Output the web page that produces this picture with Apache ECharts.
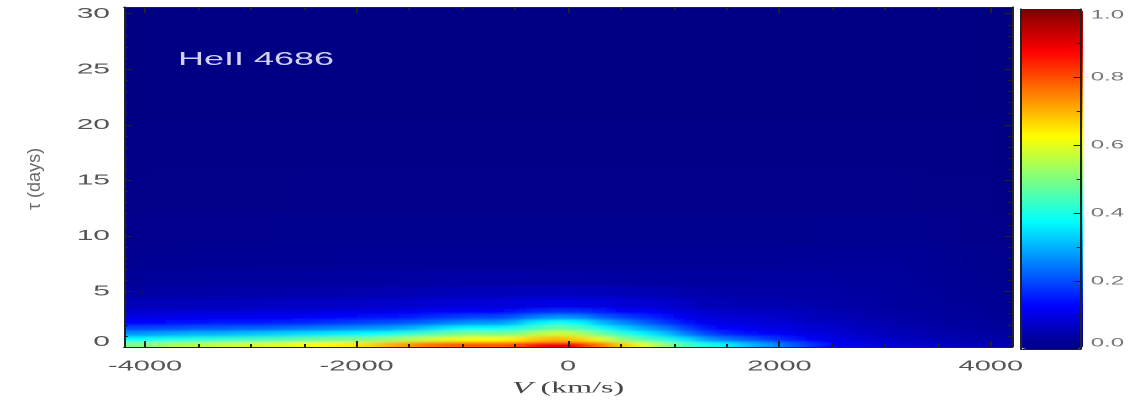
<!DOCTYPE html>
<html>
<head>
<meta charset="utf-8">
<script src="https://cdn.jsdelivr.net/npm/echarts@6/dist/echarts.min.js"></script>
<style>
html,body{margin:0;padding:0;background:#fff;overflow:hidden;}
#wrap{width:1129px;height:407px;overflow:hidden;position:relative;background:#fff;}
#heatClip{position:absolute;left:124px;top:7px;width:888px;height:340px;overflow:hidden;z-index:0;}
#heat{position:absolute;left:-124px;top:-7px;width:564.5px;height:407px;transform:scaleX(2);transform-origin:0 0;filter:url(#soft);}
#chart{position:absolute;left:0;top:0;width:564.5px;height:407px;transform:scaleX(2);transform-origin:0 0;z-index:1;}
</style>
</head>
<body>
<svg width="0" height="0" style="position:absolute">
  <filter id="soft" x="-10%" y="-10%" width="120%" height="120%">
    <feGaussianBlur stdDeviation="4 1.8"/>
  </filter>
</svg>
<div id="wrap">
  <div id="heatClip"><div id="heat"></div></div>
  <div id="chart"></div>
</div>
<script>
// ---- data ----
const velocity = [-4100,-3900,-3700,-3500,-3300,-3100,-2900,-2700,-2500,-2300,-2100,-1900,-1700,-1500,-1300,-1100,-900,-700,-500,-300,-100,100,300,500,700,900,1100,1300,1500,1700,1900,2100,2300,2500,2700,2900,3100,3300,3500,3700,3900,4100];
const tauEdges = [0,0.5,1,1.5,2,2.5,3,3.5,4.5,5.5,7,9,12,16,21,30.6];

const tau_0_05 = [.50,.52,.54,.55,.57,.58,.59,.60,.62,.63, .64,.66,.70,.73,.76,.78,.79,.78,.80,.86, .89,.86,.76,.68,.60,.52,.45,.40,.36,.31, .27,.22,.17,.13,.11,.095,.085,.075,.065,.055, .05,.045];
const tau_05_1 = [.38,.39,.40,.41,.42,.43,.44,.45,.47,.48, .49,.50,.52,.55,.58,.60,.62,.62,.64,.68, .70,.67,.60,.52,.46,.41,.35,.28,.24,.21, .18,.15,.12,.10,.085,.075,.065,.06,.05,.045, .04,.04];
const tau_1_15 = [.27,.28,.29,.30,.30,.31,.32,.33,.34,.35, .36,.37,.39,.42,.45,.48,.50,.49,.50,.55, .58,.55,.48,.42,.37,.32,.25,.19,.16,.14, .125,.11,.095,.085,.075,.065,.055,.05,.045,.04, .035,.035];
const tau_15_2 = [.19,.195,.20,.21,.21,.22,.22,.23,.24,.25, .26,.27,.28,.30,.33,.36,.38,.38,.40,.44, .48,.45,.39,.34,.29,.25,.19,.14,.125,.11, .10,.095,.085,.075,.065,.055,.05,.045,.04,.035, .03,.03];
const tau_2_25 = [.13,.13,.14,.14,.145,.15,.15,.155,.16,.17, .18,.19,.20,.21,.23,.25,.27,.27,.30,.36, .39,.37,.31,.26,.22,.18,.14,.11,.10,.09, .085,.08,.07,.065,.055,.05,.045,.04,.035,.03, .028,.025];
const tau_25_3 = [.10,.10,.105,.11,.11,.11,.115,.115,.12,.125, .13,.135,.14,.15,.165,.18,.19,.19,.21,.25, .27,.26,.22,.19,.165,.14,.11,.09,.085,.08, .075,.07,.06,.055,.05,.045,.04,.036,.032,.028, .025,.022];
const tau_3_35 = [.08,.08,.08,.085,.085,.085,.09,.09,.09,.095, .10,.10,.105,.11,.12,.125,.13,.13,.14,.16, .17,.165,.15,.13,.12,.11,.09,.075,.07,.065, .065,.06,.055,.05,.045,.04,.037,.033,.03,.027, .024,.022];
const tau_35_45 = [.055,.056,.057,.058,.06,.06,.062,.063,.065,.066, .068,.07,.072,.075,.08,.083,.085,.085,.09,.097, .10,.098,.092,.085,.08,.075,.065,.055,.052,.05, .048,.046,.043,.04,.037,.034,.031,.028,.026,.024, .022,.02];
const tau_45_55 = [.035,.036,.037,.038,.039,.04,.04,.041,.042,.043, .045,.046,.048,.05,.052,.054,.055,.055,.057,.059, .06,.06,.058,.055,.052,.05,.045,.04,.039,.038, .038,.037,.036,.035,.033,.031,.029,.027,.024,.022, .02,.018];
const tau_55_7 = [.025,.026,.027,.027,.028,.028,.029,.029,.03,.031, .032,.033,.034,.035,.036,.036,.037,.037,.037,.036, .035,.035,.034,.033,.032,.032,.031,.03,.03,.03, .03,.03,.03,.03,.029,.028,.027,.025,.022,.02, .018,.016];
const tau_7_9 = [.018,.019,.019,.02,.02,.02,.02,.021,.021,.021, .022,.022,.022,.023,.023,.023,.023,.023,.023,.022, .022,.022,.022,.022,.022,.022,.022,.022,.022,.023, .023,.024,.024,.025,.025,.025,.024,.022,.02,.018, .016,.014];
const tau_9_12 = [.013,.013,.014,.014,.014,.014,.014,.015,.015,.015, .015,.015,.015,.015,.015,.015,.015,.015,.015,.015, .015,.015,.015,.015,.015,.015,.015,.015,.015,.015, .016,.016,.016,.017,.017,.017,.016,.015,.014,.013, .012,.011];
const tau_12_16 = [.009,.01,.01,.01,.01,.01,.01,.01,.011,.011, .011,.011,.011,.011,.011,.011,.011,.011,.011,.011, .011,.011,.011,.011,.011,.011,.011,.011,.011,.011, .011,.011,.011,.011,.011,.011,.011,.01,.01,.01, .009,.008];
const tau_16_21 = [.007,.008,.008,.008,.008,.008,.008,.008,.008,.008, .008,.008,.008,.008,.008,.008,.008,.008,.008,.008, .008,.008,.008,.008,.008,.008,.008,.008,.008,.008, .008,.008,.008,.008,.008,.008,.008,.008,.007,.007, .007,.006];
const tau_21_31 = [.004,.005,.005,.005,.005,.005,.005,.005,.005,.005, .005,.005,.005,.005,.005,.005,.005,.005,.005,.005, .005,.005,.005,.005,.005,.005,.005,.005,.005,.005, .005,.005,.005,.005,.005,.005,.005,.005,.005,.005, .004,.004];

const xMajorTicks = [-4000,-2000,0,2000,4000];
const xMinorTicks = [-3500,-3000,-2500,-1500,-1000,-500,500,1000,1500,2500,3000,3500];
const yMajorTicks = [0,5,10,15,20,25,30];
const yMinorTicks = [1,2,3,4,6,7,8,9,11,12,13,14,16,17,18,19,21,22,23,24,26,27,28,29];
const cbLabels = [0,0.2,0.4,0.6,0.8,1.0];
const cbMajorTicks = [0.2,0.4,0.6,0.8];
const cbMinorTicks = [0.1,0.3,0.5,0.7,0.9];

const jet = ['#00007f','#0000ff','#007fff','#00ffff','#7fff7f','#ffff00','#ff7f00','#ff0000','#7f0000'];

// ---- build cells ----
const responseRows = [tau_0_05,tau_05_1,tau_1_15,tau_15_2,tau_2_25,tau_25_3,tau_3_35,tau_35_45,tau_45_55,tau_55_7,tau_7_9,tau_9_12,tau_12_16,tau_16_21,tau_21_31];
const half = (velocity[1]-velocity[0])/2;
const cells = [];
responseRows.forEach((row, j) => {
  row.forEach((v, i) => {
    cells.push([velocity[i]-half, velocity[i]+half, tauEdges[j], tauEdges[j+1], v]);
  });
});

const X_MIN = -4200, X_MAX = 4200, Y_MIN = 0, Y_MAX = 30.6;
const mainGrid = {left: 62, top: 7, width: 444, height: 340};
const axisColor = '#222';
const labelFont = '"Liberation Sans", Arial, sans-serif';

// ---- heat layer (softened by the page's filter, clipped to the plot box) ----
const heat = echarts.init(document.getElementById('heat'), null, {devicePixelRatio: 2});
const PAD = 30; // edge cells are bled outward so the soft filter keeps the border colours
function renderCell(params, api) {
  const x0 = api.value(0), x1 = api.value(1), y0 = api.value(2), y1 = api.value(3);
  const a = api.coord([x0, y1]);
  const b = api.coord([x1, y0]);
  let left = a[0], top = a[1], right = b[0] + 0.4, bottom = b[1] + 0.6;
  if (x0 <= X_MIN) left -= PAD;
  if (x1 >= X_MAX) right += PAD;
  if (y0 <= Y_MIN) bottom += PAD;
  if (y1 >= Y_MAX) top -= PAD;
  return {
    type: 'rect',
    shape: {x: left, y: top, width: right - left, height: bottom - top},
    style: {fill: api.visual('color')}
  };
}
heat.setOption({
  animation: false,
  grid: Object.assign({containLabel: false}, mainGrid),
  xAxis: {type: 'value', min: X_MIN, max: X_MAX, show: false},
  yAxis: {type: 'value', min: Y_MIN, max: Y_MAX, show: false},
  visualMap: {show: false, type: 'continuous', dimension: 4, min: 0, max: 1, inRange: {color: jet}},
  series: [{
    type: 'custom', clip: false, renderItem: renderCell,
    encode: {x: [0, 1], y: [2, 3]}, data: cells
  }]
});

// ---- frame, axes, texts and colour bar ----
const chart = echarts.init(document.getElementById('chart'), null, {devicePixelRatio: 2});

function plainAxis(grid, pos, min, max, extra) {
  const base = {
    gridIndex: grid, type: 'value', min: min, max: max, position: pos, z: 6,
    axisLine: {show: false, onZero: false, lineStyle: {color: axisColor, width: 1}},
    axisTick: {show: false},
    axisLabel: {show: false},
    splitLine: {show: false}
  };
  return Object.assign(base, extra || {});
}
const lineOn = {show: true, onZero: false, lineStyle: {color: axisColor, width: 1}};

chart.setOption({
  animation: false,
  backgroundColor: 'transparent',
  title: {
    text: 'HeII 4686', left: 89, top: 51, padding: 0,
    textStyle: {color: '#d2d2f0', fontSize: 18, fontWeight: 'normal', fontFamily: labelFont}
  },
  grid: [
    Object.assign({containLabel: false}, mainGrid),
    {left: 510.5, top: 9, width: 31, height: 340, containLabel: false}
  ],
  xAxis: [
    plainAxis(0, 'bottom', X_MIN, X_MAX, {
      axisLine: lineOn,
      axisTick: {show: true, inside: true, length: 6, customValues: xMajorTicks, lineStyle: {color: axisColor}},
      axisLabel: {show: true, customValues: xMajorTicks, margin: 12, fontSize: 14.5, color: '#555', fontFamily: labelFont,
        formatter: v => String(v)},
      name: '{i|V} (km/s)', nameLocation: 'middle', nameGap: 33,
      nameTextStyle: {fontFamily: '"Liberation Serif", serif', fontSize: 16, color: '#444',
        rich: {i: {fontFamily: '"Liberation Serif", serif', fontStyle: 'italic', fontSize: 17, color: '#444'}}}
    }),
    plainAxis(0, 'bottom', X_MIN, X_MAX, {
      axisTick: {show: true, inside: true, length: 3, customValues: xMinorTicks, lineStyle: {color: axisColor}}
    }),
    plainAxis(0, 'top', X_MIN, X_MAX, {
      axisLine: lineOn,
      axisTick: {show: true, inside: true, length: 6, customValues: xMajorTicks, lineStyle: {color: axisColor}}
    }),
    plainAxis(0, 'top', X_MIN, X_MAX, {
      axisTick: {show: true, inside: true, length: 3, customValues: xMinorTicks, lineStyle: {color: axisColor}}
    }),
    plainAxis(1, 'bottom', 0, 1, {z: 10, axisLine: lineOn}),
    plainAxis(1, 'top', 0, 1, {z: 10, axisLine: lineOn})
  ],
  yAxis: [
    plainAxis(0, 'left', Y_MIN, Y_MAX, {
      axisLine: lineOn,
      axisTick: {show: true, inside: true, length: 4, customValues: yMajorTicks, lineStyle: {color: axisColor}},
      axisLabel: {show: true, customValues: yMajorTicks, margin: 7, fontSize: 15, color: '#555', fontFamily: labelFont,
        formatter: v => v === 0 ? '{lo|0}' : String(v),
        rich: {lo: {fontSize: 15, color: '#555', fontFamily: labelFont, padding: [0, 0, 10, 0]}}}
    }),
    plainAxis(0, 'left', Y_MIN, Y_MAX, {
      axisTick: {show: true, inside: true, length: 2, customValues: yMinorTicks, lineStyle: {color: axisColor}}
    }),
    plainAxis(0, 'right', Y_MIN, Y_MAX, {
      axisLine: lineOn,
      axisTick: {show: true, inside: true, length: 4, customValues: yMajorTicks, lineStyle: {color: axisColor}}
    }),
    plainAxis(0, 'right', Y_MIN, Y_MAX, {
      axisTick: {show: true, inside: true, length: 2, customValues: yMinorTicks, lineStyle: {color: axisColor}}
    }),
    plainAxis(1, 'left', 0, 1, {z: 10, axisLine: lineOn}),
    plainAxis(1, 'right', 0, 1, {
      z: 10,
      axisLine: lineOn,
      axisTick: {show: true, inside: true, length: 3.5, customValues: cbMajorTicks, lineStyle: {color: axisColor}},
      axisLabel: {show: true, customValues: cbLabels, margin: 5, fontSize: 12, color: '#777', fontFamily: labelFont,
        formatter: v => v === 0 ? '{lo|0.0}' : (v === 1 ? '{hi|1.0}' : v.toFixed(1)),
        rich: {
          lo: {fontSize: 12, color: '#777', fontFamily: labelFont, padding: [0, 0, 12, 0]},
          hi: {fontSize: 12, color: '#777', fontFamily: labelFont, padding: [12, 0, 0, 0]}
        }}
    }),
    plainAxis(1, 'right', 0, 1, {
      z: 10,
      axisTick: {show: true, inside: true, length: 2, customValues: cbMinorTicks, lineStyle: {color: axisColor}}
    })
  ],
  visualMap: {
    type: 'continuous', dimension: 4, min: 0, max: 1,
    calculable: false, orient: 'vertical', left: 510.5, top: 9,
    itemWidth: 31, itemHeight: 340, padding: 0, text: null, hoverLink: false,
    inRange: {color: jet}, z: 4
  },
  graphic: [{
    type: 'text', x: 17.5, y: 179, rotation: Math.PI / 2, scaleY: 0.5, z: 10,
    style: {text: 'τ (days)', fontSize: 18, fontFamily: labelFont, fill: '#6a6a6a', align: 'center', verticalAlign: 'middle'}
  }],
  series: []
});
</script>
</body>
</html>
